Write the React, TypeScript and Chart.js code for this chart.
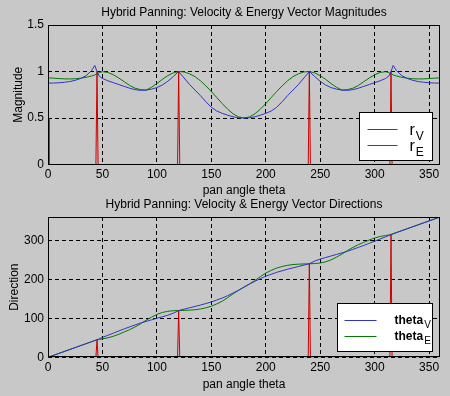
import React, { useEffect, useRef } from 'react';
import { Chart, registerables } from 'chart.js';

Chart.register(...registerables);

// ---------------- data ----------------
const angles = [0, 5, 10, 15, 20, 25, 30, 35, 40, 43, 45, 47, 50, 55, 60, 65, 70, 75, 80, 85, 90, 95, 100, 105, 110, 115, 120, 125, 130, 135, 140, 145, 150, 155, 160, 165, 170, 175, 180, 185, 190, 195, 200, 205, 210, 215, 220, 225, 230, 235, 240, 245, 250, 255, 260, 265, 270, 275, 280, 285, 290, 295, 300, 305, 310, 313, 315, 317, 320, 325, 330, 335, 340, 345, 350, 355, 360];

const rV = [0.875, 0.876, 0.879, 0.884, 0.892, 0.905, 0.925, 0.955, 1.01, 1.065, 1.0, 0.95, 0.925, 0.9, 0.88, 0.86, 0.84, 0.82, 0.805, 0.797, 0.8, 0.81, 0.827, 0.855, 0.895, 0.945, 1.0, 0.93, 0.86, 0.8, 0.74, 0.675, 0.615, 0.575, 0.55, 0.53, 0.513, 0.503, 0.5, 0.503, 0.513, 0.53, 0.55, 0.575, 0.615, 0.675, 0.74, 0.8, 0.86, 0.93, 1.0, 0.945, 0.895, 0.855, 0.827, 0.81, 0.8, 0.797, 0.805, 0.82, 0.84, 0.86, 0.88, 0.9, 0.925, 0.95, 1.0, 1.065, 1.01, 0.955, 0.925, 0.905, 0.892, 0.884, 0.879, 0.876, 0.875];

const rE = [0.932, 0.928, 0.924, 0.921, 0.92, 0.922, 0.928, 0.938, 0.952, 0.963, 0.975, 0.988, 0.998, 0.99, 0.965, 0.93, 0.89, 0.85, 0.82, 0.805, 0.8, 0.83, 0.87, 0.915, 0.955, 0.985, 1.0, 0.995, 0.975, 0.945, 0.9, 0.845, 0.785, 0.72, 0.655, 0.595, 0.545, 0.512, 0.5, 0.512, 0.545, 0.595, 0.655, 0.72, 0.785, 0.845, 0.9, 0.945, 0.975, 0.995, 1.0, 0.985, 0.955, 0.915, 0.87, 0.83, 0.8, 0.805, 0.82, 0.85, 0.89, 0.93, 0.965, 0.99, 0.998, 0.988, 0.975, 0.963, 0.952, 0.938, 0.928, 0.922, 0.92, 0.921, 0.924, 0.928, 0.932];

const thetaV = [0, 5, 10, 15, 20, 25, 30, 35, 40, 43, 45, 47.5, 51, 56.5, 62, 67.5, 73, 78, 83, 88, 92, 96, 100, 104, 108, 113, 120, 123.5, 127, 130.5, 134, 138, 142, 147, 152, 158, 165, 172, 180, 188, 195, 202, 208, 213, 218, 222, 226, 229.5, 233, 236.5, 240, 247, 252, 256, 260, 264, 268, 272, 277, 282, 287, 292.5, 298, 303.5, 309, 312.5, 315, 317, 320, 325, 330, 335, 340, 345, 350, 355, 360];

const thetaE = [0, 5, 10, 15, 20, 25, 30, 35, 40, 43, 45, 46, 47.5, 50, 54, 59, 65, 71, 78, 86, 95, 103, 110, 115, 118, 119.5, 120, 120.5, 121, 122, 124, 127, 131, 137, 144, 153, 163, 172, 180, 188, 197, 207, 216, 223, 229, 233, 236, 238, 239, 239.5, 240, 240.5, 242, 245, 250, 257, 265, 274, 282, 289, 295, 301, 306, 310, 312.5, 314, 315, 317, 320, 325, 330, 335, 340, 345, 350, 355, 360];

const spikeAnglesTop = [0.7, 0.9, 44, 45, 46, 119, 120, 121, 239, 240, 241, 314, 315, 316, 360];
const spikeValuesTop = [0.5, 0, 0, 1, 0, 0, 1, 0, 0, 1, 0, 0, 1, 0, 0];
const spikeAnglesBottom = [0, 44, 45, 46, 119, 120, 121, 239, 240, 241, 314, 315, 316, 360];
const spikeValuesBottom = [0, 0, 45, 0, 0, 120, 0, 0, 240, 0, 0, 315, 0, 0];

const xTicksStep = 50;
const topTitle = 'Hybrid Panning: Velocity & Energy Vector Magnitudes';
const bottomTitle = 'Hybrid Panning: Velocity & Energy Vector Directions';
const xLabel = 'pan angle theta';

// ---------------- style ----------------
const FONT = '"Liberation Sans", Arial, sans-serif';
const BLUE = '#3333c4';
const GREEN = '#007a00';
const RED = '#cc0000';
const BG = '#c8c8c8';

const boxLegendPlugin = {
  id: 'boxLegend',
  afterDatasetsDraw(chart: any, _args: any, opts: any) {
    const { ctx, chartArea: a } = chart;
    ctx.save();
    ctx.setLineDash([]);
    ctx.strokeStyle = '#000';
    ctx.lineWidth = 1;
    const l = Math.round(a.left) + 0.5;
    const t = Math.round(a.top) + 0.5;
    const r = Math.round(a.right) - 0.5;
    const b = Math.round(a.bottom) - 0.5;
    ctx.strokeRect(l, t, r - l, b - t);

    // title centred over the plot area
    ctx.fillStyle = '#000';
    ctx.font = `12px ${FONT}`;
    ctx.textAlign = 'center';
    ctx.textBaseline = 'middle';
    ctx.fillText(opts.title, (a.left + a.right) / 2, opts.titleY);

    const lg = opts.legend;
    const x0 = Math.round(a.right - lg.right - lg.width) + 0.5;
    const y0 = Math.round(a.bottom - lg.bottom - lg.height) + 0.5;
    ctx.fillStyle = '#fff';
    ctx.fillRect(x0, y0, lg.width, lg.height);
    ctx.strokeStyle = '#000';
    ctx.strokeRect(x0, y0, lg.width, lg.height);
    chart.data.datasets.slice(0, 2).forEach((ds: any, i: number) => {
      const y = Math.round(y0 + lg.rows[i]) + 0.5;
      ctx.strokeStyle = ds.borderColor;
      ctx.lineWidth = 1;
      ctx.beginPath();
      ctx.moveTo(x0 + lg.lineX0, y);
      ctx.lineTo(x0 + lg.lineX1, y);
      ctx.stroke();
      const [main, sub] = String(ds.label).split('_');
      ctx.fillStyle = '#000';
      ctx.textAlign = 'left';
      ctx.textBaseline = 'alphabetic';
      ctx.font = lg.mainFont;
      ctx.fillText(main, x0 + lg.textX, y + lg.mainDy);
      const w = ctx.measureText(main).width;
      ctx.font = lg.subFont;
      ctx.fillText(sub, x0 + lg.textX + w + 1, y + lg.subDy);
    });
    ctx.restore();
  },
};

function buildConfig(p: any): any {
  const font = { family: FONT, size: 12, weight: 'normal' as const, lineHeight: 1.2 };
  return {
    type: 'line',
    data: {
      datasets: [
        {
          label: p.l1,
          data: angles.map((a, i) => ({ x: a, y: p.s1[i] })),
          borderColor: BLUE,
          borderWidth: 1,
          pointRadius: 0,
          tension: 0,
        },
        {
          label: p.l2,
          data: angles.map((a, i) => ({ x: a, y: p.s2[i] })),
          borderColor: GREEN,
          borderWidth: 1,
          pointRadius: 0,
          tension: 0,
        },
        {
          label: 'spikes',
          data: p.spX.map((a: number, i: number) => ({ x: a, y: p.spY[i] })),
          borderColor: RED,
          borderWidth: 1,
          pointRadius: 0,
          tension: 0,
        },
      ],
    },
    options: {
      responsive: false,
      animation: false,
      events: [],
      layout: { padding: { left: 0, right: 10, top: p.areaTop, bottom: 0 } },
      plugins: {
        legend: { display: false },
        tooltip: { enabled: false },
        title: { display: false },
        boxLegend: { legend: p.legend, title: p.title, titleY: p.titleY },
      },
      scales: {
        x: {
          type: 'linear',
          min: 0,
          max: 360,
          ticks: {
            stepSize: xTicksStep,
            includeBounds: false,
            color: '#000',
            font,
            padding: 3,
            maxRotation: 0,
            autoSkip: false,
          },
          grid: { color: '#000', lineWidth: 1, drawTicks: false },
          border: { display: false, dash: [4, 3] },
          title: {
            display: true,
            text: xLabel,
            color: '#000',
            font,
            padding: { top: 0, bottom: p.xTitleBottom },
          },
          afterFit: (s: any) => {
            s.height = p.xHeight;
          },
        },
        y: {
          type: 'linear',
          min: 0,
          max: p.yMax,
          ticks: {
            stepSize: p.yStep,
            includeBounds: false,
            color: '#000',
            font,
            padding: 4,
            callback: (v: number) => String(v),
          },
          grid: { color: '#000', lineWidth: 1, drawTicks: false },
          border: { display: false, dash: [4, 3] },
          title: {
            display: true,
            text: p.yTitle,
            color: '#000',
            font,
            padding: { top: p.yTitleTop, bottom: 0 },
          },
          afterFit: (s: any) => {
            s.width = 48;
          },
        },
      },
    },
    plugins: [boxLegendPlugin],
  };
}

export default function App() {
  const topRef = useRef<HTMLCanvasElement>(null);
  const botRef = useRef<HTMLCanvasElement>(null);

  useEffect(() => {
    const c1 = new Chart(
      topRef.current as HTMLCanvasElement,
      buildConfig({
        title: topTitle,
        titleY: 12.3,
        areaTop: 25,
        l1: 'r_V',
        l2: 'r_E',
        s1: rV,
        s2: rE,
        spX: spikeAnglesTop,
        spY: spikeValuesTop,
        yMax: 1.5,
        yStep: 0.5,
        yTitle: 'Magnitude',
        yTitleTop: 11,
        xHeight: 33.5,
        xTitleBottom: 0,
        legend: {
          right: 8,
          bottom: 5,
          width: 73,
          height: 48,
          rows: [16, 32],
          lineX0: 8,
          lineX1: 38,
          textX: 50,
          mainFont: `16px ${FONT}`,
          subFont: `12px ${FONT}`,
          mainDy: 5,
          subDy: 10,
        },
      })
    );
    const c2 = new Chart(
      botRef.current as HTMLCanvasElement,
      buildConfig({
        title: bottomTitle,
        titleY: 10,
        areaTop: 22,
        l1: 'theta_V',
        l2: 'theta_E',
        s1: thetaV,
        s2: thetaE,
        spX: spikeAnglesBottom,
        spY: spikeValuesBottom,
        yMax: 360,
        yStep: 100,
        yTitle: 'Direction',
        yTitleTop: 7,
        xHeight: 38.7,
        xTitleBottom: 4.2,
        legend: {
          right: 8,
          bottom: 6,
          width: 95,
          height: 48,
          rows: [16, 32],
          lineX0: 7,
          lineX1: 39,
          textX: 57,
          mainFont: `bold 12px ${FONT}`,
          subFont: `10px ${FONT}`,
          mainDy: 3,
          subDy: 7,
        },
      })
    );
    return () => {
      c1.destroy();
      c2.destroy();
    };
  }, []);

  return (
    <div
      style={{
        position: 'fixed',
        left: 0,
        top: 0,
        width: 450,
        height: 396,
        background: BG,
        overflow: 'hidden',
      }}
    >
      <canvas ref={topRef} width={450} height={198} style={{ position: 'absolute', left: 0, top: 0 }} />
      <canvas ref={botRef} width={450} height={201} style={{ position: 'absolute', left: 0, top: 195 }} />
    </div>
  );
}
